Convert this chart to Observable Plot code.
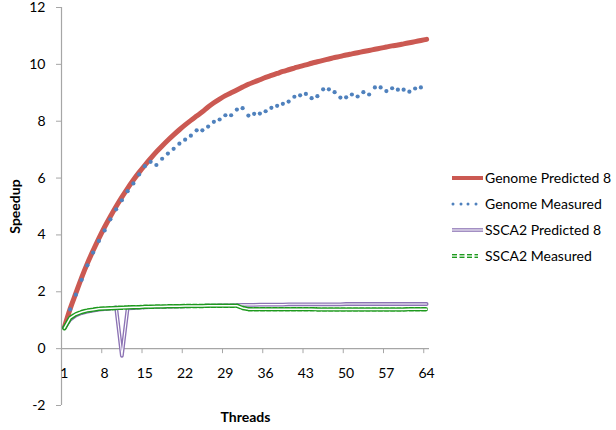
<!DOCTYPE html>
<html>
<head>
<meta charset="utf-8">
<script src="https://cdn.jsdelivr.net/npm/d3@7"></script>
<script src="https://cdn.jsdelivr.net/npm/@observablehq/plot@0.6"></script>
<style>
  html, body { margin: 0; padding: 0; background: #fff; }
  #wrap { position: relative; width: 616px; height: 430px; font-family: Lato, "Open Sans", sans-serif; }
  #legend { position: absolute; left: 450px; top: 164px; }
  #chart svg { overflow: visible; }
</style>
</head>
<body>
<div id="wrap"><div id="chart"></div><svg id="legend" width="166" height="106"></svg></div>
<script>
// ---- data ----
const threads = [1,2,3,4,5,6,7,8,9,10,11,12,13,14,15,16,17,18,19,20,21,22,23,24,25,26,27,28,29,30,31,32,
  33,34,35,36,37,38,39,40,41,42,43,44,45,46,47,48,49,50,51,52,53,54,55,56,57,58,59,60,61,62,63,64];

const genomePredicted = [0.75,1.4,1.95,2.5,3.0,3.45,3.88,4.28,4.65,5.0,5.33,5.64,5.93,6.2,6.45,6.69,
  6.92,7.13,7.33,7.52,7.7,7.87,8.03,8.18,8.33,8.5,8.65,8.78,8.9,9.0,9.1,9.2,
  9.3,9.38,9.46,9.54,9.61,9.68,9.75,9.81,9.87,9.93,9.98,10.04,10.09,10.14,10.19,10.24,
  10.28,10.33,10.37,10.41,10.45,10.49,10.53,10.57,10.61,10.65,10.68,10.72,10.76,10.8,10.84,10.88];

const genomeMeasured = [0.75,1.38,1.9,2.42,2.93,3.38,3.79,4.16,4.55,4.9,5.22,5.54,5.81,6.13,6.42,6.57,
  6.46,6.68,6.86,7.03,7.21,7.35,7.49,7.68,7.68,7.81,7.98,8.06,8.21,8.21,8.41,8.46,
  8.2,8.26,8.27,8.35,8.47,8.54,8.61,8.69,8.86,8.91,8.96,8.81,8.88,9.12,9.12,9.02,
  8.83,8.84,8.94,8.87,9.02,8.94,9.19,9.19,9.06,9.16,9.11,9.11,9.04,9.15,9.19];

const sscaPredicted = [0.72,1.02,1.17,1.25,1.3,1.34,1.37,1.39,1.41,1.45,-0.25,1.42,1.43,1.44,1.45,1.46,
  1.47,1.47,1.48,1.48,1.49,1.49,1.5,1.5,1.5,1.51,1.51,1.52,1.52,1.52,1.53,1.54,
  1.54,1.54,1.55,1.55,1.55,1.55,1.55,1.56,1.56,1.56,1.56,1.56,1.56,1.56,1.56,1.56,
  1.56,1.57,1.57,1.57,1.57,1.57,1.57,1.57,1.57,1.57,1.57,1.57,1.57,1.57,1.57,1.57];

const sscaMeasured = [0.72,1.08,1.21,1.29,1.34,1.37,1.4,1.41,1.42,1.43,1.44,1.45,1.46,1.46,1.47,1.47,
  1.48,1.48,1.49,1.49,1.49,1.5,1.5,1.5,1.5,1.51,1.51,1.51,1.51,1.51,1.51,1.43,
  1.39,1.39,1.39,1.39,1.39,1.39,1.39,1.39,1.39,1.39,1.39,1.39,1.38,1.38,1.38,1.38,
  1.38,1.38,1.38,1.38,1.38,1.38,1.38,1.38,1.38,1.38,1.38,1.38,1.39,1.39,1.39,1.39];

const seriesNames = ["Genome Predicted 8", "Genome Measured", "SSCA2 Predicted 8", "SSCA2 Measured"];
const xTickLabels = [1, 8, 15, 22, 29, 36, 43, 50, 57, 64];
const yTickLabels = [-2, 0, 2, 4, 6, 8, 10, 12];
const xTitle = "Threads";
const yTitle = "Speedup";

// ---- styling ----
const RED = "#CB5952", BLUE = "#4F81BD", PURPLE = "#8C73B4", GREEN = "#1E9A1E", AXIS = "#A6A6A6";
const W = 616, H = 430, mL = 61, mR = 187, mT = 7, mB = 25;
const xDomain = [0.5, 64.5];
const yDomain = [-2, 12];
const FONT = "Lato, 'Open Sans', sans-serif";

const rows = (vals) => vals.map((v, i) => ({t: threads[i], v}));
const gp = rows(genomePredicted), gm = rows(genomeMeasured), sp = rows(sscaPredicted), sm = rows(sscaMeasured);

// category boundaries (Excel ticks between categories)
const xTickMarks = xTickLabels.slice(1).map(t => t - 0.5);
const yPix = d3.scaleLinear(yDomain, [H - mB, mT]);
const axisDy = yPix(0) - yPix(yDomain[0]);

const chart = Plot.plot({
  width: W, height: H,
  marginLeft: mL, marginRight: mR, marginTop: mT, marginBottom: mB,
  style: {fontFamily: FONT, fontSize: "14px", background: "white", color: "#000", overflow: "visible"},
  x: {domain: xDomain},
  y: {domain: yDomain},
  marks: [
    Plot.ruleX([xDomain[0]], {y1: yDomain[0], y2: yDomain[1], stroke: AXIS, strokeWidth: 1.2}),
    Plot.ruleY([0], {x1: xDomain[0], x2: xDomain[1], stroke: AXIS, strokeWidth: 1.2}),
    Plot.axisY({ticks: yTickLabels, tickSize: 5, tickPadding: 11, stroke: AXIS, fill: "#000",
      fontSize: 14, tickFormat: d => String(d), label: null}),
    Plot.axisX({ticks: xTickMarks, tickSize: 5, tickFormat: () => "", dy: axisDy, stroke: AXIS, label: null}),
    Plot.axisX({ticks: xTickLabels, tickSize: 0, tickPadding: 19, dy: axisDy, fill: "#000",
      fontSize: 14, tickFormat: d => String(d), label: null}),
    // Genome predicted
    Plot.line(gp, {x: "t", y: "v", stroke: RED, strokeWidth: 5, curve: "monotone-x"}),
    // Genome measured (round dots)
    Plot.dot(gm, {x: "t", y: "v", r: 2.1, fill: BLUE}),
    // SSCA2 predicted (double line)
    Plot.line(sp, {x: "t", y: "v", stroke: PURPLE, strokeWidth: 3.8, strokeLinejoin: "round"}),
    Plot.line(sp, {x: "t", y: "v", stroke: "white", strokeWidth: 1.1, strokeLinejoin: "round"}),
    // SSCA2 measured (double dashed)
    Plot.line(sm, {x: "t", y: "v", stroke: GREEN, strokeWidth: 4.5, strokeDasharray: "4,2.2"}),
    Plot.line(sm, {x: "t", y: "v", stroke: "white", strokeWidth: 1.5}),
    // titles
    Plot.text([xTitle], {frameAnchor: "bottom", dy: 12, lineAnchor: "middle", fontWeight: "bold", fontSize: 14, fill: "#000"}),
    Plot.text([yTitle], {frameAnchor: "left", dx: -46, rotate: -90, lineAnchor: "middle", textAnchor: "middle", fontWeight: "bold", fontSize: 14, fill: "#000"})
  ]
});
document.getElementById("chart").appendChild(chart);

// ---- legend ----
const lg = d3.select("#legend").style("font-family", FONT);
const rowY = [14, 40, 66, 92];
const sx0 = 2, sx1 = 33;
// red thick line
lg.append("line").attr("x1", sx0).attr("x2", sx1).attr("y1", rowY[0]).attr("y2", rowY[0]).attr("stroke", RED).attr("stroke-width", 4);
// blue dots
[3, 11, 18, 26].forEach(cx => lg.append("circle").attr("cx", cx).attr("cy", rowY[1]).attr("r", 1.5).attr("fill", BLUE));
// purple double line
lg.append("line").attr("x1", sx0).attr("x2", sx1).attr("y1", rowY[2]).attr("y2", rowY[2]).attr("stroke", PURPLE).attr("stroke-width", 3.6);
lg.append("line").attr("x1", sx0).attr("x2", sx1).attr("y1", rowY[2]).attr("y2", rowY[2]).attr("stroke", "white").attr("stroke-width", 1.1);
// green double dashed
lg.append("line").attr("x1", sx0).attr("x2", 28).attr("y1", rowY[3]).attr("y2", rowY[3]).attr("stroke", GREEN).attr("stroke-width", 4).attr("stroke-dasharray", "5,2.5");
lg.append("line").attr("x1", sx0).attr("x2", 28).attr("y1", rowY[3]).attr("y2", rowY[3]).attr("stroke", "white").attr("stroke-width", 1.2);
seriesNames.forEach((name, i) => {
  lg.append("text").attr("x", 35).attr("y", rowY[i]).attr("dy", "0.35em")
    .attr("font-size", 14).attr("fill", "#000").text(name);
});
</script>
</body>
</html>
